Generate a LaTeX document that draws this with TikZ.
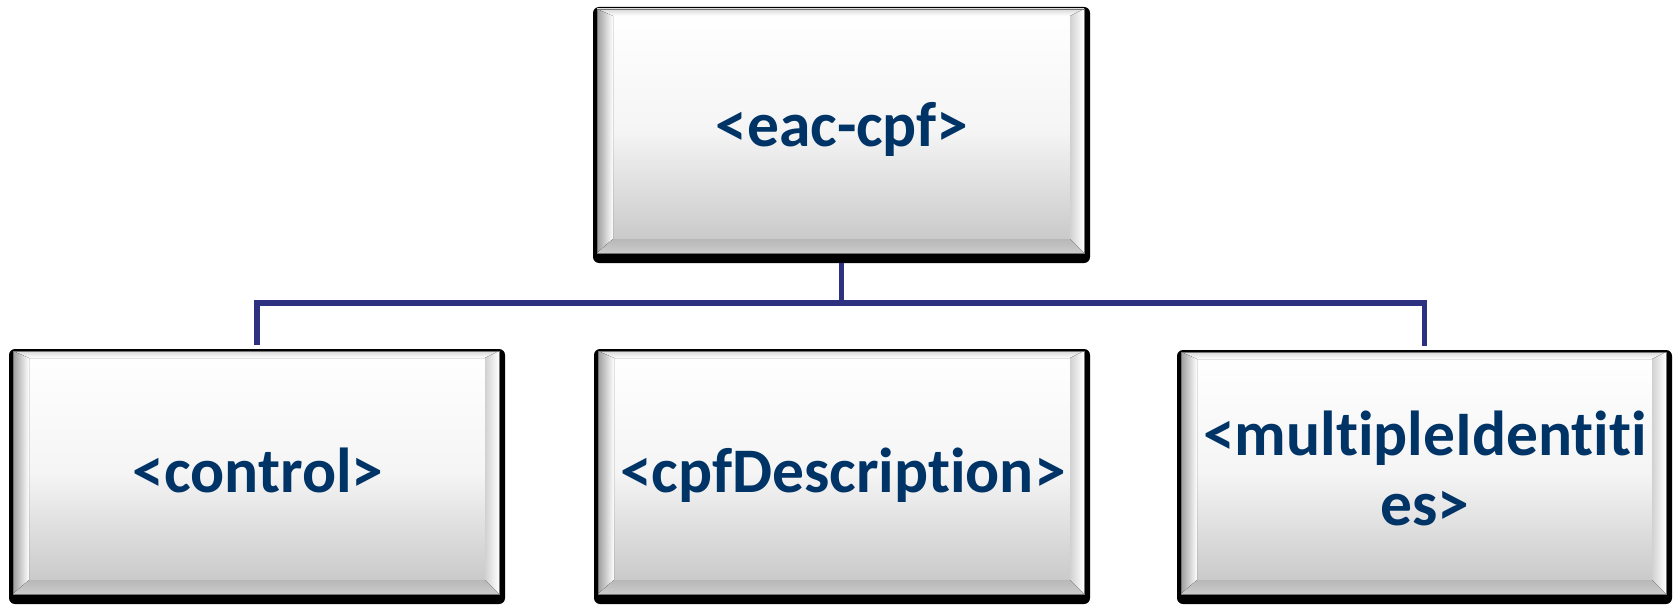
\documentclass[tikz,border=0pt]{standalone}
\usepackage{fontspec}
\setmainfont{Carlito}[Ligatures={NoCommon,NoRare,NoContextual}]
\definecolor{txtblue}{RGB}{0,51,102}
\definecolor{connblue}{RGB}{46,49,128}
\tikzset{
  outerbox/.style={fill=black, rounded corners=3pt, inner sep=0pt, draw=none},
  conn/.style={draw=connblue, line width=2.8pt},
  lbl/.style={font=\bfseries\fontsize{31.75}{35}\selectfont, text=txtblue, inner sep=0pt},
}
\newcommand\bevbox[5]{%
  \pgfmathsetmacro\bvL{#2+4}\pgfmathsetmacro\bvT{#3+2}%
  \pgfmathsetmacro\bvR{#4-6}\pgfmathsetmacro\bvB{#5-10}%
  \node[outerbox, minimum width={(#4-#2)*0.5pt}, minimum height={(#5-#3)*0.5pt}] (#1) at ({(#2+#4)/2},{(#3+#5)/2}) {};
  \fill[top color=white, bottom color=black!23, middle color=black!4] (\bvL,\bvT) rectangle (\bvR,\bvB);
  % top bevel
  \fill[top color=black!15, bottom color=white] (\bvL,\bvT) -- ({\bvR},\bvT) -- ({\bvR-14},{\bvT+7}) -- ({\bvL+16},{\bvT+7}) -- cycle;
  % left bevel
  \fill[left color=black!38, right color=white] (\bvL,\bvT) -- ({\bvL+16},{\bvT+7}) -- ({\bvL+16},{\bvB-14}) -- (\bvL,\bvB) -- cycle;
  % right bevel
  \fill[left color=black!18, right color=white] (\bvR,\bvT) -- ({\bvR-14},{\bvT+7}) -- ({\bvR-14},{\bvB-14}) -- (\bvR,\bvB) -- cycle;
  % bottom bevel
  \fill[top color=black!28, bottom color=black!20] (\bvL,\bvB) -- ({\bvL+16},{\bvB-14}) -- ({\bvR-14},{\bvB-14}) -- (\bvR,\bvB) -- cycle;
  \draw[black!55, line width=0.4pt] (\bvL,\bvT) rectangle (\bvR,\bvB);
}
\begin{document}
\begin{tikzpicture}[x=0.5pt, y=-0.5pt]
\useasboundingbox (0,0) rectangle (1673,604);
% boxes
\bevbox{top}{593}{7}{1090}{263}
\bevbox{ctrl}{9}{349}{505}{604}
\bevbox{desc}{594}{349}{1090}{604}
\bevbox{ident}{1177}{350}{1672}{604}
% connectors
\coordinate (bus) at (843,303);
\draw[conn, shorten >=2pt] (top.south) -- (top.south |- bus) -| (ctrl.north);
\draw[conn, shorten >=2pt] (top.south |- bus) -| (ident.north);
% labels
\node[lbl, anchor=base] (ltop) at (842,147) {<eac-cpf>};
\node[lbl, anchor=base] (lctrl) at (258,492) {<control>};
\node[lbl, anchor=base] (ldesc) at (843,492) {<cpfDescription>};
\node[lbl, anchor=base] (lida) at (1425,455) {<multipleIdentiti};
\node[lbl, anchor=base] (lidb) at (1425,525) {es>};
\end{tikzpicture}
\end{document}
